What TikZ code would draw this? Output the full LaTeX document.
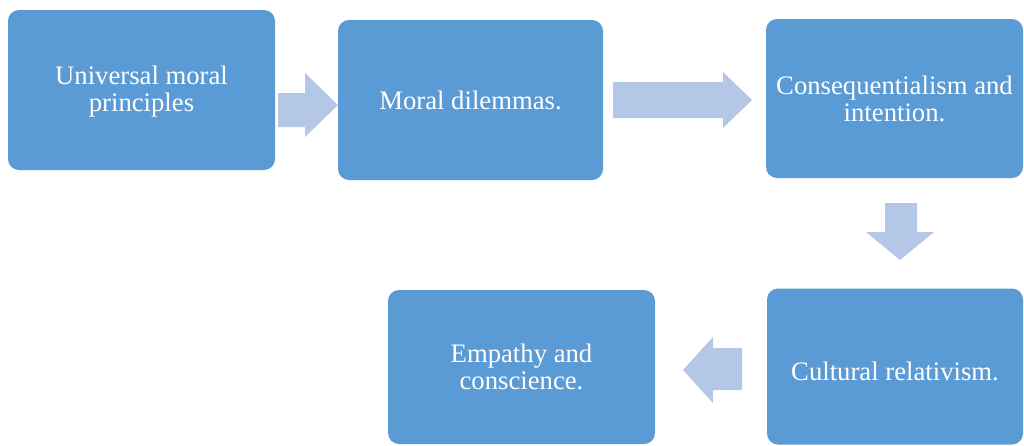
\documentclass[tikz,border=0pt]{standalone}
\usepackage{fontspec}
\setmainfont{Liberation Serif}
\definecolor{boxblue}{RGB}{91,155,213}
\definecolor{arrowblue}{RGB}{180,199,231}
\begin{document}
\begin{tikzpicture}[x=1pt,y=-1pt,
  stagebox/.style={fill=boxblue, draw=none, rounded corners=11pt, inner sep=0pt},
  stagetext/.style={align=center, text=white, inner sep=0pt, font=\fontsize{26.7}{27}\selectfont},
  blockarrow/.style={fill=arrowblue, draw=none}]
\fill[white] (0,0) rectangle (1024,445);
\useasboundingbox (0,0) rectangle (1024,445);
\node[stagebox, minimum width=267pt, minimum height=160pt] (b1) at (141.5,90) {};
\node[stagebox, minimum width=265pt, minimum height=160pt] (b2) at (470.5,100) {};
\node[stagebox, minimum width=257pt, minimum height=159pt] (b3) at (894.5,98.5) {};
\node[stagebox, minimum width=256pt, minimum height=156pt] (b4) at (895,366.5) {};
\node[stagebox, minimum width=267pt, minimum height=154pt] (b5) at (521.5,367) {};
\node[stagetext] (t1) at ([yshift=-2pt]b1.center) {Universal moral\\principles};
\node[stagetext] (t2) at ([yshift=0pt]b2.center) {Moral dilemmas.};
\node[stagetext] (t3) at (b3.center) {Consequentialism and\\intention.};
\node[stagetext] (t4) at ([yshift=-5pt]b4.center) {Cultural relativism.};
\node[stagetext] (t5) at (b5.center) {Empathy and\\conscience.};
% block arrows
\fill[blockarrow] (278,93) -- (305,93) -- (305,73) -- (338,105) -- (305,137) -- (305,127) -- (278,127) -- cycle;
\fill[blockarrow] (613,82) -- (723,82) -- (723,72) -- (752,100) -- (723,128) -- (723,118) -- (613,118) -- cycle;
\fill[blockarrow] (885,203) -- (917,203) -- (917,232) -- (934,232) -- (900,260) -- (866,232) -- (885,232) -- cycle;
\fill[blockarrow] (742,348) -- (713,348) -- (713,337) -- (683,370) -- (713,403) -- (713,390) -- (742,390) -- cycle;
\end{tikzpicture}
\end{document}
